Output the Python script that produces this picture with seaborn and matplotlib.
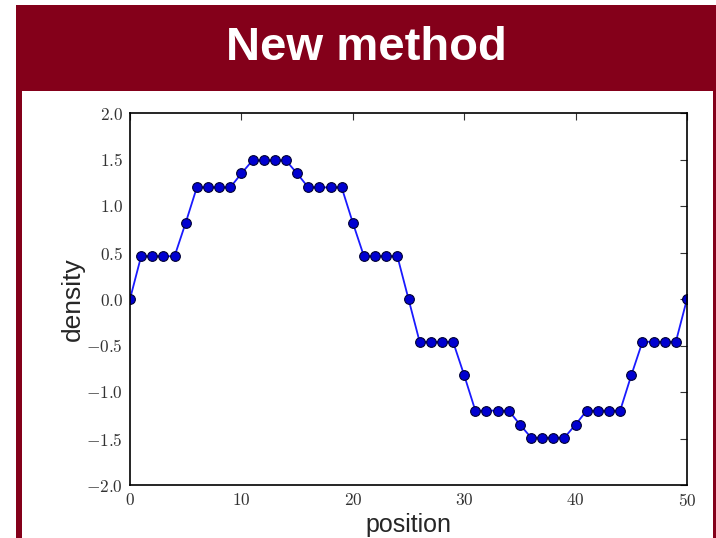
import matplotlib
matplotlib.use("Agg")
import matplotlib.pyplot as plt
import seaborn as sns
import numpy as np
import pandas as pd
from matplotlib.patches import Rectangle
from matplotlib.ticker import FuncFormatter

# ---- data ----
position = list(range(51))
density = [0.0,
           0.46, 0.46, 0.46, 0.46, 0.82,
           1.2, 1.2, 1.2, 1.2, 1.35,
           1.49, 1.49, 1.49, 1.49, 1.35,
           1.2, 1.2, 1.2, 1.2, 0.82,
           0.46, 0.46, 0.46, 0.46, 0.0,
           -0.46, -0.46, -0.46, -0.46, -0.82,
           -1.2, -1.2, -1.2, -1.2, -1.35,
           -1.49, -1.49, -1.49, -1.49, -1.35,
           -1.2, -1.2, -1.2, -1.2, -0.82,
           -0.46, -0.46, -0.46, -0.46, 0.0]
title = "New method"
xlabel = "position"
ylabel = "density"
x_ticks = [0, 10, 20, 30, 40, 50]
y_ticks = [-2.0, -1.5, -1.0, -0.5, 0.0, 0.5, 1.0, 1.5, 2.0]

df = pd.DataFrame({"position": position, "density": density})

sns.set_style("white")
plt.rcParams['font.family'] = ['Liberation Sans', 'DejaVu Sans']
plt.rcParams['mathtext.fontset'] = 'cm'

W, H = 716, 538
fig = plt.figure(figsize=(W / 100, H / 100), dpi=100)
fig.patch.set_facecolor("white")

red = "#84001a"
fig.add_artist(Rectangle((16 / W, 0), (W - 16) / W, (H - 5) / H,
                         transform=fig.transFigure, facecolor=red,
                         edgecolor="none", zorder=0))
fig.add_artist(Rectangle((22 / W, 0), (712.5 - 22) / W, (H - 90.5) / H,
                         transform=fig.transFigure, facecolor="white",
                         edgecolor="none", zorder=0))
fig.text(366 / W, 1 - 48 / H, title, color="white", fontsize=34,
         fontweight="bold", ha="center", va="center")

ax = fig.add_axes([130 / W, (H - 485) / H, (687 - 130) / W, (485 - 113) / H])
ax.set_facecolor("none")
sns.lineplot(data=df, x="position", y="density", ax=ax, color="#1a1aff",
             linewidth=1.3, marker="o", markersize=7,
             markerfacecolor="#0000d0", markeredgecolor="#000033",
             markeredgewidth=0.8)
ax.set_xlim(0, 50)
ax.set_ylim(-2.0, 2.0)
ax.set_xticks(x_ticks)
ax.set_yticks(y_ticks)
fmt_x = FuncFormatter(lambda v, p: r"$%d$" % round(v))
fmt_y = FuncFormatter(lambda v, p: r"$%.1f$" % v)
ax.xaxis.set_major_formatter(fmt_x)
ax.yaxis.set_major_formatter(fmt_y)
ax.tick_params(direction="in", length=5, width=0.8, top=True, right=True,
               labelsize=12.5, colors="#333333", labelcolor="#333333", pad=5)
for s in ax.spines.values():
    s.set_visible(True)
    s.set_color("black")
    s.set_linewidth(1.2)
ax.set_xlabel(xlabel, fontsize=18, labelpad=3)
ax.set_ylabel(ylabel, fontsize=19, labelpad=1)
for lab in ax.get_xticklabels() + ax.get_yticklabels():
    lab.set_clip_on(False)

fig.savefig("out.png", dpi=100)
